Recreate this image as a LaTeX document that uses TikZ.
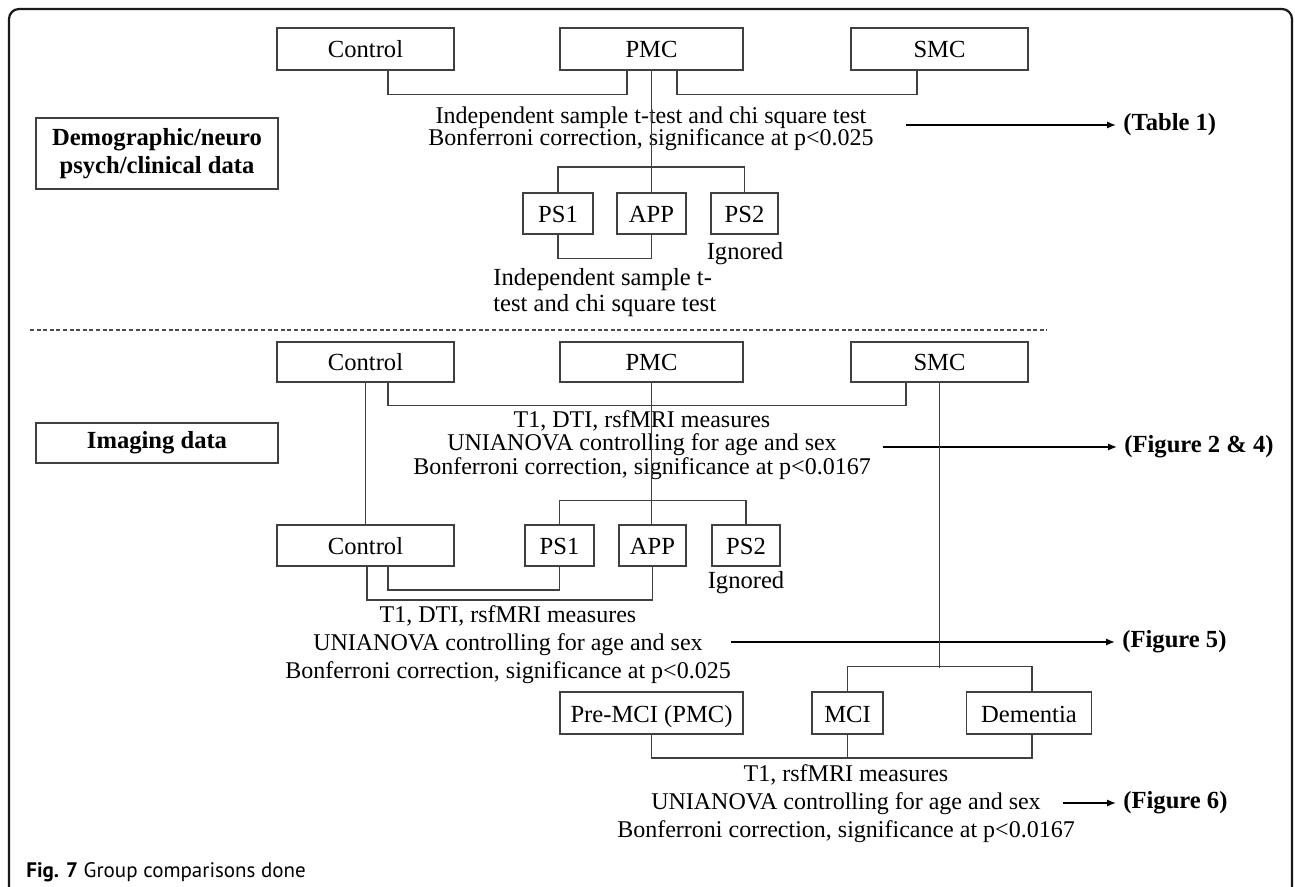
\documentclass[tikz,border=0pt]{standalone}
\usepackage{fontspec}
\setmainfont{Liberation Serif}
\newfontfamily\capfont{PT Sans}
\usetikzlibrary{arrows.meta,calc}
\newcommand\tightlines{\lineskiplimit=-100pt\relax}
\begin{document}
\begin{tikzpicture}[x=0.5pt,y=-0.5pt,
  bx/.style 2 args={draw=black!75, line width=0.75pt, minimum width=#1*0.5pt, minimum height=#2*0.5pt, inner sep=0pt, text height=9.4pt, text depth=0.4pt, font=\fontsize{12.3}{14}\selectfont},
  lbx/.style 2 args={draw=black!75, line width=0.75pt, minimum width=#1*0.5pt, minimum height=#2*0.5pt, inner sep=0pt, align=center, font=\fontsize{12.3}{14}\selectfont\bfseries},
  conn/.style={draw=black!75, line width=0.75pt},
  arr/.style={draw=black, line width=0.75pt, shorten >=3.5pt, -{Latex[length=4.5pt,width=3.6pt]}},
  fig/.style={anchor=west, inner sep=0pt, font=\fontsize{12.3}{14}\selectfont\bfseries},
  blk/.style={align=center, inner sep=0pt, font=\tightlines\fontsize{12}{#1}\selectfont},
  lblk/.style={align=left, inner sep=0pt, font=\tightlines\fontsize{12.3}{#1}\selectfont},
  plain/.style={inner sep=0pt, font=\fontsize{12.3}{14}\selectfont},
  frame/.style={draw=black!90, line width=1.1pt, rounded corners=5pt},
  sep/.style={draw=black!70, line width=0.6pt, dash pattern=on 2pt off 1.3pt},
]
\useasboundingbox (0,0) rectangle (1295,887);
\path[fill=white] (0,0) rectangle (1295,887);
% frame
\draw[frame] (9,887) -- (9,9) -- (1292,9) -- (1292,887);

% ---------- upper section ----------
\node[bx={177}{42}] (c1) at (365.5,49) {Control};
\node[bx={183}{42}] (p1) at (651.5,49) {PMC};
\node[bx={177}{42}] (s1) at (939.5,49) {SMC};
\node[lbx={242}{71}] (demo) at (157,153.5) {Demographic/neuro\\psych/clinical data};

\draw[conn] ($(c1.south)+(22.5,0)$) -- ++(0,24) -| ($(p1.south)+(-24.5,0)$);
\draw[conn] ($(p1.south)+(25.5,0)$) -- ++(0,24) -| ($(s1.south)+(-22.5,0)$);

\node[blk=11] (tA) at (651,129) {Independent sample t-test and chi square test\\Bonferroni correction, significance at p<0.025};
\coordinate (aA) at (906,125);
\node[fig] (tab1) at (1123,125) {(Table 1)};
\draw[arr] (aA) -- (tab1);

\node[bx={70}{41}] (ps1) at (558,213.5) {PS1};
\node[bx={69}{41}] (app) at (651.5,213.5) {APP};
\node[bx={67}{41}] (ps2) at (744.5,213.5) {PS2};
\draw[conn] (p1.south) -- (app.north);
\draw[conn] (ps1.north) -- ++(0,-25) -| (ps2.north);
\draw[conn] (ps1.south) -- ++(0,24) -| (app.south);
\node[plain, anchor=base] (ign1) at (745,260) {Ignored};
\node[lblk=13, anchor=west] (tB) at (493,293) {Independent sample t-\\test and chi square test};

% separator
\coordinate (dl) at (30,330);
\coordinate (dr) at (1047,330);
\draw[sep] (dl) -- (dr);

% ---------- lower section ----------
\node[bx={177}{40}] (c2) at (365.5,362) {Control};
\node[bx={183}{40}] (p2) at (651.5,362) {PMC};
\node[bx={177}{40}] (s2) at (939.5,362) {SMC};
\node[lbx={242}{40}] (img) at (157,443) {Imaging data};

\draw[conn] ($(c2.south)+(22.5,0)$) -- ++(0,23) -| ($(s2.south)+(-33.5,0)$);

\node[blk=11.75] (tC) at (642,445) {T1, DTI, rsfMRI measures\\UNIANOVA controlling for age and sex\\Bonferroni correction, significance at p<0.0167};
\coordinate (aC) at (883,447);
\node[fig] (f24) at (1124,447) {(Figure 2 \& 4)};
\draw[arr] (aC) -- (f24);

\node[bx={177}{41}] (c3) at (365.5,545.5) {Control};
\node[bx={69}{41}] (ps1b) at (559.5,545.5) {PS1};
\node[bx={67}{41}] (appb) at (652.5,545.5) {APP};
\node[bx={68}{41}] (ps2b) at (746,545.5) {PS2};
\node[plain, anchor=base] (ign2) at (746,588) {Ignored};

\draw[conn] (c2.south) -- (c3.north);
\draw[conn] (p2.south) -- (p2.south |- appb.north);
\draw[conn] (ps1b.north) -- ++(0,-24) -| (ps2b.north);
\draw[conn] ($(c3.south)+(22.5,0)$) -- ++(0,23) -| (ps1b.south);
\draw[conn] ($(c3.south)+(1.5,0)$) -- ++(0,33) -| (appb.south);

\node[blk=14] (tD) at (508,645) {T1, DTI, rsfMRI measures\\UNIANOVA controlling for age and sex\\Bonferroni correction, significance at p<0.025};
\coordinate (aD) at (731,642);
\node[fig] (f5) at (1122,642) {(Figure 5)};
\draw[arr] (aD) -- (f5);

\node[bx={183}{42}] (pre) at (651.5,713) {Pre-MCI (PMC)};
\node[bx={71}{42}] (mci) at (847.5,713) {MCI};
\node[bx={125}{42}] (dem) at (1029,713) {Dementia};

\coordinate (smcj) at (939.5,668);
\draw[conn] (s2.south) -- (smcj);
\draw[conn] (mci.north) -- ++(0,-25) -| ($(dem.north)+(3,0)$);
\draw[conn] (pre.south) -- ++(0,23) -| ($(dem.south)+(3,0)$);
\draw[conn] (mci.south) -- ++(0,23);

\node[blk=14] (tE) at (846,804) {T1, rsfMRI measures\\UNIANOVA controlling for age and sex\\Bonferroni correction, significance at p<0.0167};
\coordinate (aE) at (1063,803);
\node[fig] (f6) at (1123,803) {(Figure 6)};
\draw[arr] (aE) -- (f6);

% caption
\node[anchor=base west, inner sep=0pt, font=\capfont\fontsize{10.5}{12}\selectfont] (cap) at (26,877) {\textbf{Fig. 7} Group comparisons done};
\end{tikzpicture}
\end{document}
